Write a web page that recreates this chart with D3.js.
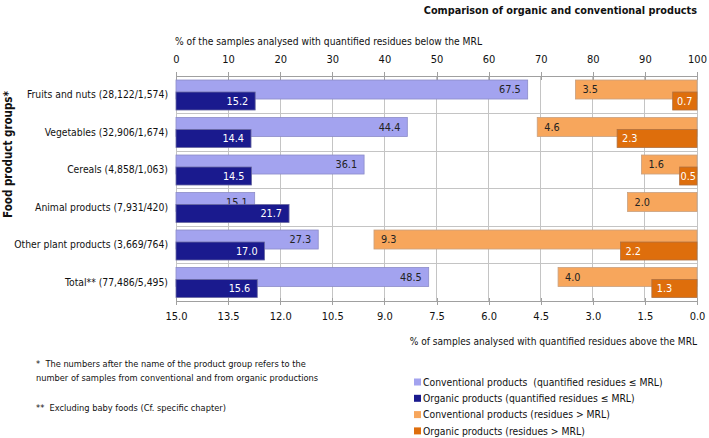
<!DOCTYPE html>
<html><head><meta charset="utf-8">
<script src="https://cdn.jsdelivr.net/npm/d3@7/dist/d3.min.js"></script>
<style>
html,body{margin:0;padding:0;background:#fff;}
svg{display:block;}
text{font-family:'DejaVu Sans Condensed','DejaVu Sans',sans-serif;white-space:pre;}
</style></head>
<body>
<script>
const categories = ["Fruits and nuts (28,122/1,574)", "Vegetables (32,906/1,674)", "Cereals (4,858/1,063)", "Animal products (7,931/420)", "Other plant products (3,669/764)", "Total** (77,486/5,495)"];
const convBelow = [67.5, 44.4, 36.1, 15.1, 27.3, 48.5];
const orgBelow  = [15.2, 14.4, 14.5, 21.7, 17.0, 15.6];
const convAbove = [3.5, 4.6, 1.6, 2.0, 9.3, 4.0];
const orgAbove  = [0.7, 2.3, 0.5, null, 2.2, 1.3];
const topTicks = [0,10,20,30,40,50,60,70,80,90,100];
const bottomTicks = [15.0,13.5,12.0,10.5,9.0,7.5,6.0,4.5,3.0,1.5,0.0];
const legendLabels = ["Conventional products  (quantified residues \u2264 MRL)", "Organic products (quantified residues \u2264 MRL)", "Conventional products (residues > MRL)", "Organic products (residues > MRL)"];
const colors = ["#a3a3ef", "#1a1a8e", "#f7a65c", "#de6e0c"];

const W = 709, H = 438;
const svg = d3.select("body").append("svg").attr("width", W).attr("height", H);
const L = 176, R = 697, T = 76, B = 301;

const xTop = d3.scaleLinear().domain([0,100]).range([L,R]);
const xBot = d3.scaleLinear().domain([15,0]).range([L,R]);
const y = d3.scaleBand().domain(categories).range([T,B]).padding(0);
const bw = y.bandwidth();

// gridlines
svg.append("g").selectAll("line").data(topTicks).join("line")
  .attr("x1", d=>xTop(d)).attr("x2", d=>xTop(d)).attr("y1", T).attr("y2", B)
  .attr("stroke", "#c4c4c4").attr("stroke-width", 1).attr("shape-rendering","crispEdges");
svg.append("g").selectAll("line").data(categories).join("line")
  .attr("x1", L).attr("x2", R).attr("y1", d=>y(d)).attr("y2", d=>y(d))
  .attr("stroke", "#c4c4c4").attr("stroke-width", 1).attr("shape-rendering","crispEdges");

// axes
const axTop = svg.append("g").attr("transform", `translate(0,${T})`)
  .call(d3.axisTop(xTop).tickValues(topTicks).tickFormat(d3.format("d")).tickSizeInner(4).tickSizeOuter(0).tickPadding(9));
const axBot = svg.append("g").attr("transform", `translate(0,${B})`)
  .call(d3.axisBottom(xBot).tickValues(bottomTicks).tickFormat(d3.format(".1f")).tickSizeInner(4).tickSizeOuter(0).tickPadding(7));
[axTop, axBot].forEach(a => {
  a.select(".domain").attr("stroke", "#a0a0a0");
  a.selectAll(".tick line").attr("stroke", "#a0a0a0").attr("shape-rendering","crispEdges");
  a.selectAll("text").attr("font-size", 11).attr("fill", "#111")
   .attr("font-family", "'DejaVu Sans Condensed','DejaVu Sans',sans-serif");
});
axTop.selectAll(".tick line").attr("y1", 4).attr("y2", -4);
axBot.selectAll(".tick line").attr("y1", -3).attr("y2", 4);

// bars
const rows = categories.map((c,i)=>({c, cb:convBelow[i], ob:orgBelow[i], ca:convAbove[i], oa:orgAbove[i]}));
const ly = d => y(d.c) + bw*0.107, lh = bw*0.507;
const dy = d => y(d.c) + bw*0.427, dh = bw*0.48;

const g = svg.append("g");
// light purple
g.selectAll(".cb").data(rows).join("rect")
  .attr("x", xTop(0)).attr("y", ly).attr("width", d=>xTop(d.cb)-xTop(0)).attr("height", lh)
  .attr("fill", colors[0]).attr("stroke", "#8c8cc8").attr("stroke-width", 0.8);
g.selectAll(".cbt").data(rows).join("text")
  .attr("x", d=>xTop(d.cb)-7).attr("y", d=>ly(d)+lh/2).attr("dy","0.35em")
  .attr("text-anchor","end").attr("font-size",10.8).attr("fill","#222").text(d=>d.cb.toFixed(1));
// light orange
g.selectAll(".ca").data(rows).join("rect")
  .attr("x", d=>xBot(d.ca)).attr("y", ly).attr("width", d=>xBot(0)-xBot(d.ca)).attr("height", lh)
  .attr("fill", colors[2]).attr("stroke", "#c8a080").attr("stroke-width", 0.8);
g.selectAll(".cat").data(rows).join("text")
  .attr("x", d=>xBot(d.ca)+7).attr("y", d=>ly(d)+lh/2).attr("dy","0.35em")
  .attr("font-size",10.8).attr("fill","#222").text(d=>d.ca.toFixed(1));
// dark purple
g.selectAll(".ob").data(rows).join("rect")
  .attr("x", xTop(0)).attr("y", dy).attr("width", d=>xTop(d.ob)-xTop(0)).attr("height", dh)
  .attr("fill", colors[1]).attr("stroke", "#6a6aa0").attr("stroke-width", 0.8);
g.selectAll(".obt").data(rows).join("text")
  .attr("x", d=>xTop(d.ob)-7).attr("y", d=>dy(d)+dh/2).attr("dy","0.35em")
  .attr("text-anchor","end").attr("font-size",10.8).attr("fill","#fff").text(d=>d.ob.toFixed(1));
// dark orange
const oaRows = rows.filter(d=>d.oa!=null);
g.selectAll(".oa").data(oaRows).join("rect")
  .attr("x", d=>xBot(d.oa)).attr("y", dy).attr("width", d=>xBot(0)-xBot(d.oa)).attr("height", dh)
  .attr("fill", colors[3]).attr("stroke", "#b07040").attr("stroke-width", 0.8);
g.selectAll(".oat").data(oaRows).join("text")
  .attr("x", d=>{const w=xBot(0)-xBot(d.oa); return w<30 ? xBot(d.oa)+w/2 : xBot(d.oa)+5;})
  .attr("text-anchor", d=>(xBot(0)-xBot(d.oa))<30 ? "middle" : "start")
  .attr("y", d=>dy(d)+dh/2).attr("dy","0.35em")
  .attr("font-size",10.8).attr("fill","#fff").text(d=>d.oa.toFixed(1));

// category labels
svg.append("g").selectAll("text").data(categories).join("text")
  .attr("x", 168).attr("y", d=>y(d)+bw/2).attr("dy","0.35em").attr("text-anchor","end")
  .attr("font-size", 10.3).attr("fill","#111").text(d=>d);

// titles
svg.append("text").attr("x", 697).attr("y", 10).attr("dy","0.35em").attr("text-anchor","end")
  .attr("font-size", 10.8).attr("font-weight","bold").attr("fill","#111")
  .text("Comparison of organic and conventional products");
svg.append("text").attr("x", 175).attr("y", 41).attr("dy","0.35em")
  .attr("font-size", 10.2).attr("fill","#111")
  .text("% of the samples analysed with quantified residues below the MRL");
svg.append("text").attr("x", 697).attr("y", 341).attr("dy","0.35em").attr("text-anchor","end")
  .attr("font-size", 10.1).attr("fill","#111")
  .text("% of samples analysed with quantified residues above the MRL");
svg.append("text").attr("transform", `translate(8,${(T+B)/2 - 34}) rotate(-90)`)
  .attr("dy","0.35em").attr("text-anchor","middle")
  .attr("font-size", 11.5).attr("font-weight","bold").attr("fill","#111")
  .text("Food product groups*");

// footnotes
const fn = svg.append("g").attr("font-size", 9.2).attr("fill","#111");
fn.append("text").attr("x", 36).attr("y", 364).attr("dy","0.35em").text("*  The numbers after the name of the product group refers to the");
fn.append("text").attr("x", 36).attr("y", 378).attr("dy","0.35em").text("number of samples from conventional and from organic productions");
fn.append("text").attr("x", 36).attr("y", 408).attr("dy","0.35em").text("**  Excluding baby foods (Cf. specific chapter)");

// legend
const lg = svg.append("g").selectAll("g").data(legendLabels).join("g")
  .attr("transform", (d,i)=>`translate(414,${382 + i*16.3})`);
lg.append("rect").attr("x",0).attr("y",-3.5).attr("width",7).attr("height",7).attr("fill",(d,i)=>colors[i]);
lg.append("text").attr("x",9).attr("y",0).attr("dy","0.35em").attr("font-size",10.3).attr("fill","#111").text(d=>d);
</script>
</body></html>
